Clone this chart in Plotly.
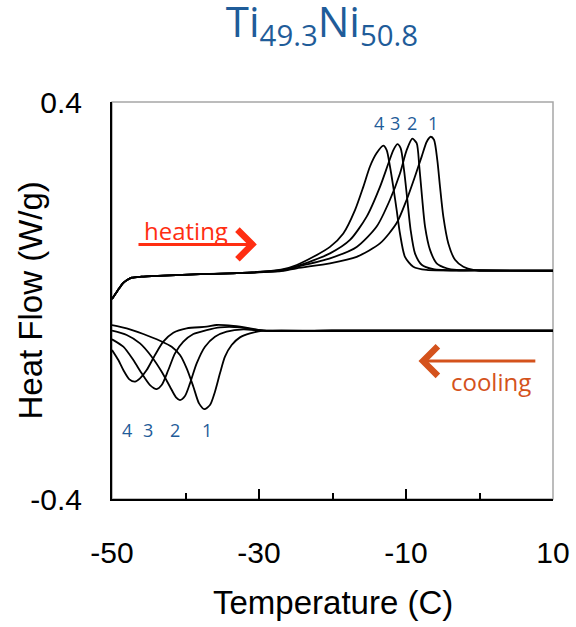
import plotly.graph_objects as go

# ---------------- data ----------------
# Heating runs: shared low-temperature start
heat_start_T = [-50.0, -49.5, -49.0, -48.5, -48.0, -47.3, -46.0, -43.0, -38.0, -33.0]
heat_start_HF = [0.003, 0.014, 0.025, 0.035, 0.041, 0.046, 0.048, 0.050, 0.053, 0.055]

heat1_T = [-27.0, -24.87, -20.34, -16.71, -13.54, -11.27, -9.91, -8.78, -7.87, -7.18, -6.64,
           -6.19, -5.74, -5.37, -4.92, -4.24, -3.33, -2.2, -0.84, 5.0, 10.0]
heat1_HF = [0.059, 0.065, 0.075, 0.088, 0.115, 0.156, 0.203, 0.250, 0.290, 0.320, 0.330,
            0.324, 0.283, 0.229, 0.169, 0.115, 0.082, 0.068, 0.0615, 0.0603, 0.060]

heat2_T = [-27.0, -24.87, -20.34, -16.71, -13.99, -12.18, -10.82, -9.91, -9.14,
           -8.55, -8.19, -7.82, -7.41, -6.73, -5.83, -4.47, -3.11, 0.0, 10.0]
heat2_HF = [0.060, 0.068, 0.085, 0.108, 0.149, 0.203, 0.256, 0.303, 0.326,
            0.317, 0.270, 0.209, 0.149, 0.102, 0.075, 0.065, 0.0615, 0.0605, 0.060]

heat3_T = [-27.0, -24.87, -20.34, -17.62, -15.35, -13.54, -12.4, -11.72, -11.18,
           -10.73, -10.27, -9.82, -9.37, -8.78, -7.87, -6.28, -4.92, 0.0, 10.0]
heat3_HF = [0.061, 0.069, 0.095, 0.122, 0.169, 0.229, 0.276, 0.303, 0.315,
            0.307, 0.263, 0.203, 0.142, 0.095, 0.072, 0.063, 0.0615, 0.0605, 0.060]

heat4_T = [-27.0, -24.87, -22.6, -20.34, -18.53, -16.94, -15.81, -14.9, -13.99, -13.09,
           -12.63, -12.18, -11.73, -11.27, -10.82, -10.14, -9.01, -7.18, 0.0, 10.0]
heat4_HF = [0.062, 0.0716, 0.088, 0.108, 0.135, 0.182, 0.229, 0.270, 0.297, 0.312,
            0.303, 0.270, 0.229, 0.182, 0.135, 0.088, 0.068, 0.0615, 0.0605, 0.060]

# Cooling runs
cool1_T = [-50.0, -48.0, -45.74, -43.47, -41.88, -40.75, -39.84, -38.93, -38.16, -37.44,
           -36.67, -35.99, -35.31, -34.63, -33.72, -32.59, -31.22, -29.41, -20.0, -10.0, 0.0, 10.0]
cool1_HF = [-0.0494, -0.0561, -0.0675, -0.0810, -0.0931, -0.1099, -0.1368, -0.1737, -0.2073, -0.2188,
            -0.2107, -0.1838, -0.1468, -0.1132, -0.0897, -0.0743, -0.0662, -0.0608, -0.061, -0.061, -0.061, -0.061]

cool2_T = [-50.0, -48.0, -46.19, -44.6, -43.24, -42.11, -41.29, -40.75, -40.07, -39.39,
           -38.48, -37.35, -35.99, -34.4, -32.13, -29.41, -20.0, -10.0, 0.0, 10.0]
cool2_HF = [-0.0608, -0.0696, -0.0864, -0.1132, -0.1435, -0.1737, -0.1952, -0.2006, -0.1925, -0.1670,
            -0.1267, -0.0931, -0.0729, -0.0628, -0.0581, -0.0608, -0.061, -0.061, -0.061, -0.061]

cool3_T = [-50.0, -48.46, -47.1, -45.96, -44.83, -43.92, -43.24, -42.34, -41.43, -40.29,
           -38.93, -37.12, -35.31, -32.59, -29.41, -20.0, -10.0, 0.0, 10.0]
cool3_HF = [-0.0783, -0.0931, -0.1200, -0.1468, -0.1704, -0.1784, -0.1704, -0.1401, -0.1065, -0.0830,
            -0.0675, -0.0595, -0.0541, -0.0541, -0.0608, -0.061, -0.061, -0.061, -0.061]

cool4_T = [-50.0, -49.14, -48.46, -47.64, -46.87, -46.19, -45.28, -44.15, -43.02, -41.66,
           -39.84, -37.12, -35.76, -33.49, -31.22, -29.41, -20.0, -10.0, 0.0, 10.0]
cool4_HF = [-0.0998, -0.1200, -0.1401, -0.1589, -0.1636, -0.1569, -0.1401, -0.1099, -0.0830, -0.0649,
            -0.0561, -0.0528, -0.0494, -0.0514, -0.0561, -0.0608, -0.061, -0.061, -0.061, -0.061]

run_labels = ["1", "2", "3", "4"]
heat_label_T = [-6.3, -9.2, -11.5, -13.7]
heat_label_HF = 0.358
cool_label_T = [-37.12, -41.43, -45.06, -48.0]
cool_label_HF = -0.261

x_ticks = [-50, -30, -10, 10]
x_ticktext = ["-50", "-30", "-10", "10"]
x_minor = [-40, -20, 0]
y_ticks = [-0.4, 0.4]
y_ticktext = ["-0.4", "0.4"]

# ---------------- figure ----------------
BLUE = "#1F5C99"
RED = "#FF2E12"
ORANGE = "#D4521C"
ARIAL = "Liberation Sans, Arial, sans-serif"
CAL = "Open Sans, Noto Sans, sans-serif"

fig = go.Figure()
line_style = dict(color="black", width=1.8, shape="spline", smoothing=0.7)

heat_series = [(heat1_T, heat1_HF), (heat2_T, heat2_HF), (heat3_T, heat3_HF), (heat4_T, heat4_HF)]
for t, h in heat_series:
    fig.add_trace(go.Scatter(x=heat_start_T + t, y=heat_start_HF + h, mode="lines",
                             line=line_style, showlegend=False, hoverinfo="skip"))

cool_series = [(cool1_T, cool1_HF), (cool2_T, cool2_HF), (cool3_T, cool3_HF), (cool4_T, cool4_HF)]
for t, h in cool_series:
    fig.add_trace(go.Scatter(x=t, y=h, mode="lines", line=line_style,
                             showlegend=False, hoverinfo="skip"))

annotations = []
for lab, xt in zip(run_labels, heat_label_T):
    annotations.append(dict(x=xt, y=heat_label_HF, text=lab, showarrow=False,
                            font=dict(family=CAL, size=18, color=BLUE)))
for lab, xt in zip(run_labels, cool_label_T):
    annotations.append(dict(x=xt, y=cool_label_HF, text=lab, showarrow=False,
                            font=dict(family=CAL, size=18, color=BLUE)))

# heating arrow + text
annotations.append(dict(x=-30.3, y=0.113, ax=-46.6, ay=0.113, axref="x", ayref="y",
                        xref="x", yref="y", text="", showarrow=True, arrowhead=4,
                        arrowsize=1.9, arrowwidth=3, arrowcolor=RED))
annotations.append(dict(x=-39.96, y=0.142, text="heating", showarrow=False,
                        font=dict(family=CAL, size=24, color=RED)))
# cooling arrow + text
annotations.append(dict(x=-8.3, y=-0.122, ax=7.8, ay=-0.122, axref="x", ayref="y",
                        xref="x", yref="y", text="", showarrow=True, arrowhead=4,
                        arrowsize=1.9, arrowwidth=3, arrowcolor=ORANGE))
annotations.append(dict(x=1.5, y=-0.164, text="cooling", showarrow=False,
                        font=dict(family=CAL, size=24, color=ORANGE)))

# axis titles
annotations.append(dict(xref="paper", yref="paper", x=0.5, y=-103 / 397, text="Temperature (C)",
                        showarrow=False, xanchor="center", yanchor="middle",
                        font=dict(family=ARIAL, size=33, color="black")))
annotations.append(dict(xref="paper", yref="paper", x=-82 / 441, y=0.5, text="Heat Flow (W/g)",
                        showarrow=False, xanchor="center", yanchor="middle", textangle=-90,
                        font=dict(family=ARIAL, size=33, color="black")))

fig.update_layout(
    width=576, height=627,
    margin=dict(l=112, r=23, t=102, b=128, autoexpand=False),
    paper_bgcolor="white", plot_bgcolor="white",
    title=dict(text="Ti<sub>49.3</sub>Ni<sub>50.8</sub>", x=0.559, xanchor="center",
               xref="container", yref="container", y=1 - 8 / 627, yanchor="top",
               font=dict(family=CAL, size=42, color=BLUE)),
    annotations=annotations,
    shapes=[dict(type="rect", xref="paper", yref="paper", x0=0, x1=1, y0=0, y1=1,
                 line=dict(color="#A6A6A6", width=1.5), layer="below")],
    xaxis=dict(range=[-50, 10], tickvals=x_ticks, ticktext=x_ticktext, ticks="inside",
               ticklen=10, tickwidth=2, automargin=False,
               tickcolor="black", showline=True, linecolor="black", linewidth=2,
               showgrid=False, zeroline=False,
               minor=dict(tickvals=x_minor, ticks="inside", ticklen=6, tickwidth=2,
                          tickcolor="black", showgrid=False),
               tickfont=dict(family=ARIAL, size=30, color="black"), ticklabelstandoff=26),
    yaxis=dict(range=[-0.4, 0.4], tickvals=y_ticks, ticktext=y_ticktext, ticks="inside",
               ticklen=10, tickwidth=2, tickcolor="black", showline=True, linecolor="black",
               linewidth=2, showgrid=False, zeroline=False, automargin=False,
               tickfont=dict(family=ARIAL, size=30, color="black"), ticklabelstandoff=22),
)

fig.write_html("out.html")
